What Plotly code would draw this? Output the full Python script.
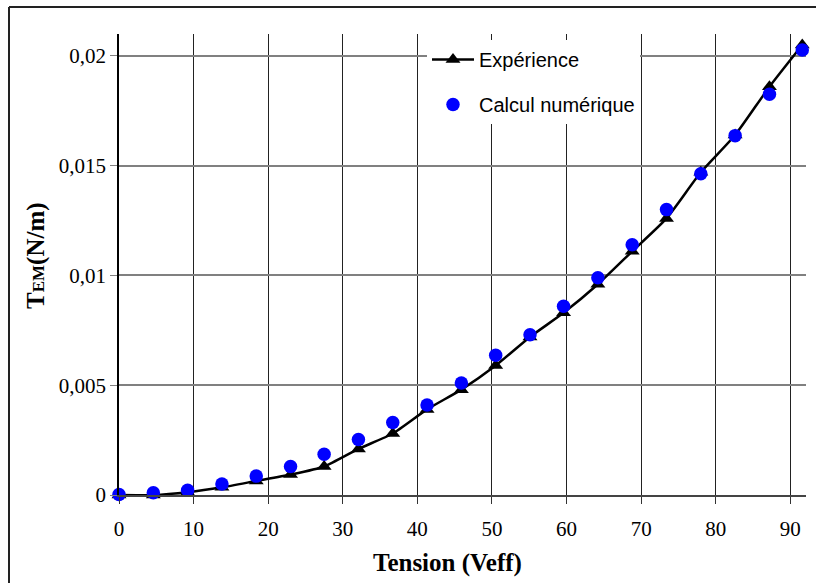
import plotly.graph_objects as go

tension = [0, 4.6, 9.2, 13.8, 18.4, 23.0, 27.5, 32.1, 36.7, 41.3, 45.9,
           50.5, 55.1, 59.6, 64.2, 68.8, 73.4, 78.0, 82.6, 87.2, 91.6]
experience = [0.0, 0.0, 0.00013, 0.00035, 0.00064, 0.00093, 0.0013, 0.0021,
              0.0028, 0.0039, 0.0048, 0.0059, 0.0072, 0.0083, 0.0096, 0.0111,
              0.0126, 0.0147, 0.0164, 0.0186, 0.0205]
calcul = [0.00002, 0.0001, 0.00022, 0.0005, 0.00086, 0.0013, 0.00186, 0.00253,
          0.0033, 0.0041, 0.0051, 0.00637, 0.0073, 0.0086, 0.0099, 0.0114,
          0.0130, 0.01463, 0.01637, 0.01826, 0.02027]

SERIF = "Liberation Serif, Times New Roman, serif"
SANS = "Liberation Sans, Arial, sans-serif"

fig = go.Figure()
fig.add_trace(go.Scatter(
    x=tension, y=experience, name="Expérience", mode="lines+markers",
    line=dict(color="black", width=2.5, shape="spline", smoothing=0.6),
    marker=dict(symbol="triangle-up", size=13, color="black"),
    cliponaxis=False, legendgroup="a"))
fig.add_trace(go.Scatter(
    x=tension, y=calcul, name="Calcul numérique", mode="markers",
    marker=dict(symbol="circle", size=13.5, color="#0000FF"),
    cliponaxis=False, legendgroup="b"))

W, H = 816, 583
L, T = 119, 34
R = W - 806
B = H - 495
pw, ph = W - L - R, H - T - B

def px(x):
    return (x - L) / pw

def py(y):
    return (H - B - y) / ph

border = dict(color="#222222", width=2)

fig.update_layout(
    width=W, height=H,
    margin=dict(l=L, r=R, t=T, b=B, autoexpand=False),
    paper_bgcolor="white", plot_bgcolor="white",
    separators=", ",
    showlegend=True,
    legend=dict(x=px(427), y=1.0 - 6 / ph, xanchor="left", yanchor="top",
                bgcolor="white", borderwidth=0,
                font=dict(family=SANS, size=20, color="black"),
                itemwidth=42, tracegroupgap=16, traceorder="grouped"),
    xaxis=dict(range=[0, 92.1], dtick=10, tick0=0,
               showgrid=True, gridcolor="#222222", gridwidth=1,
               showline=True, linecolor="#444444", linewidth=1.5,
               ticks="outside", ticklen=7, tickcolor="#333333",
               zeroline=False,
               tickfont=dict(family=SERIF, size=21, color="black"),
               ticklabelstandoff=7),
    yaxis=dict(range=[0, 0.021], dtick=0.005, tick0=0,
               showgrid=True, gridcolor="#808080", gridwidth=1.5,
               showline=True, linecolor="black", linewidth=1.5,
               ticks="outside", ticklen=7, tickcolor="#808080",
               zeroline=False,
               tickfont=dict(family=SERIF, size=21, color="black"),
               ticklabelstandoff=0),
    shapes=[
        dict(type="line", xref="paper", yref="paper",
             x0=px(9), x1=px(9), y0=py(600), y1=py(7), line=border),
        dict(type="line", xref="paper", yref="paper",
             x0=px(9), x1=px(830), y0=py(7), y1=py(7), line=border),
    ],
    annotations=[
        dict(xref="paper", yref="paper", x=px(36), y=py(256),
             xanchor="center", yanchor="middle",
             text='<b>T<span style="font-size:17px">EM</span>(N/m)</b>',
             textangle=-90, showarrow=False,
             font=dict(family=SERIF, size=25, color="black")),
        dict(xref="paper", yref="paper", x=px(447), y=py(563),
             xanchor="center", yanchor="middle",
             text="<b>Tension (Veff)</b>", showarrow=False,
             font=dict(family=SERIF, size=25, color="black")),
    ],
)

fig.write_html(
    "out.html",
    config={"displayModeBar": False},
    post_script=("document.body.style.margin='0';"
                 "document.body.style.overflow='hidden';"
                 "document.documentElement.style.overflow='hidden';"),
)
